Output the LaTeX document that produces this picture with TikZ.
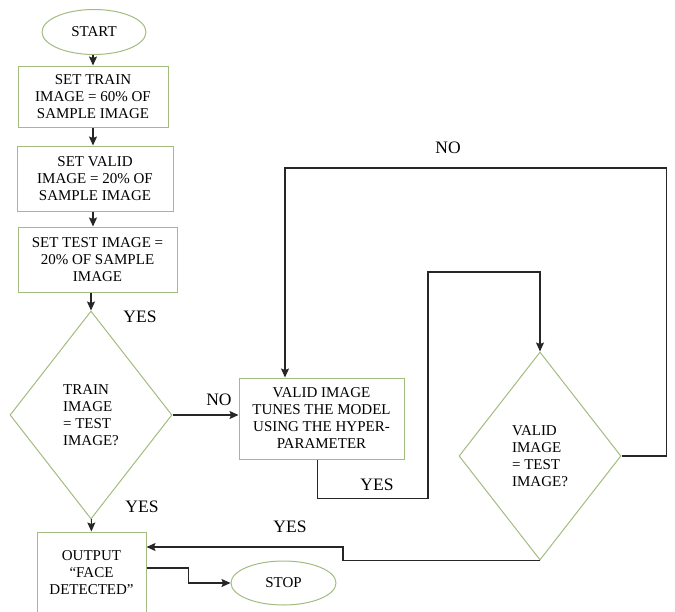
\documentclass[tikz,border=0pt]{standalone}
\usepackage{fontspec}
\setmainfont{Liberation Serif}
\usepackage{tikz}
\usetikzlibrary{shapes.geometric, arrows.meta, positioning, calc}
\definecolor{shapegreen}{HTML}{A2BC80}

\begin{document}
\begin{tikzpicture}[
  x=1pt, y=-1pt,
  terminal/.style={ellipse, draw=shapegreen, line width=1pt, inner sep=0pt, font=\fontsize{15}{17}\selectfont},
  process/.style={rectangle, draw=shapegreen, line width=1pt, inner sep=2pt, align=center, font=\fontsize{15}{17}\selectfont},
  decision/.style={diamond, draw=shapegreen, line width=1pt, inner sep=0pt, minimum width=162pt, minimum height=208pt, align=left, font=\fontsize{15}{17}\selectfont},
  lbl/.style={font=\fontsize{17.5}{20}\selectfont},
  arrow/.style={-{Stealth[length=9pt, width=8pt, inset=1.5pt]}, line width=1.1pt, black!85}
]
  \useasboundingbox (0,0) rectangle (675,611);

  % Left column
  \node[terminal, minimum width=104pt, minimum height=45pt] (start) at (94,32) {START};
  \node[process, minimum width=150pt, minimum height=61pt] (train) at (93,96.5) {SET TRAIN\\IMAGE = 60\% OF\\SAMPLE IMAGE};
  \node[process, minimum width=156pt, minimum height=65pt] (valid) at (95,178.5) {SET VALID\\IMAGE = 20\% OF\\SAMPLE IMAGE};
  \node[process, minimum width=159pt, minimum height=65pt] (test) at (97.5,259.5) {SET TEST IMAGE =\\20\% OF SAMPLE\\IMAGE};
  \node[decision] (check1) at (91,415) {TRAIN\\IMAGE\\= TEST\\IMAGE?};
  \node[process, minimum width=109pt, minimum height=82pt] (output) at (91.5,573) {OUTPUT\\``FACE\\DETECTED''};
  \node[terminal, minimum width=105pt, minimum height=44pt] (stop) at (283.5,583) {STOP};

  % Right part
  \node[process, minimum width=165pt, minimum height=81pt] (tune) at (321.5,418.5) {VALID IMAGE\\TUNES THE MODEL\\USING THE HYPER-\\PARAMETER};
  \node[decision] (check2) at (540,456) {VALID\\IMAGE\\= TEST\\IMAGE?};

  % Labels
  \node[lbl] (yes1) at (140,317) {YES};
  \node[lbl] (no1) at (219,400) {NO};
  \node[lbl] (yes2) at (142,507) {YES};
  \node[lbl] (yes3) at (377,485) {YES};
  \node[lbl] (no2) at (448,148) {NO};
  \node[lbl] (yes4) at (290,527) {YES};

  % Arrows
  \draw[arrow] (start.south -| train.north) -- (train.north);
  \draw[arrow] (train.south) -- (train.south |- valid.north);
  \draw[arrow] (train.south |- valid.south) -- (train.south |- test.north);
  \draw[arrow] (check1.north |- test.south) -- (check1.north);
  \draw[arrow] (check1.east) -- (tune.west |- check1.east);
  \draw[arrow] (check1) -- (output);
  \draw[arrow] ([yshift=5pt]output.east) -- ++(42,0) |- (stop.west);
  \draw[arrow] ([xshift=-4pt]tune.south) -- ++(0,39) -| (428,272) -| (check2.north);
  \draw[arrow] (check2.east) -- ++(45,0) |- (285,168) -- ([xshift=-36.5pt]tune.north);
  \draw[arrow] (check2.south) -| (343,547) -- ([yshift=26pt]output.east);
\end{tikzpicture}
\end{document}
